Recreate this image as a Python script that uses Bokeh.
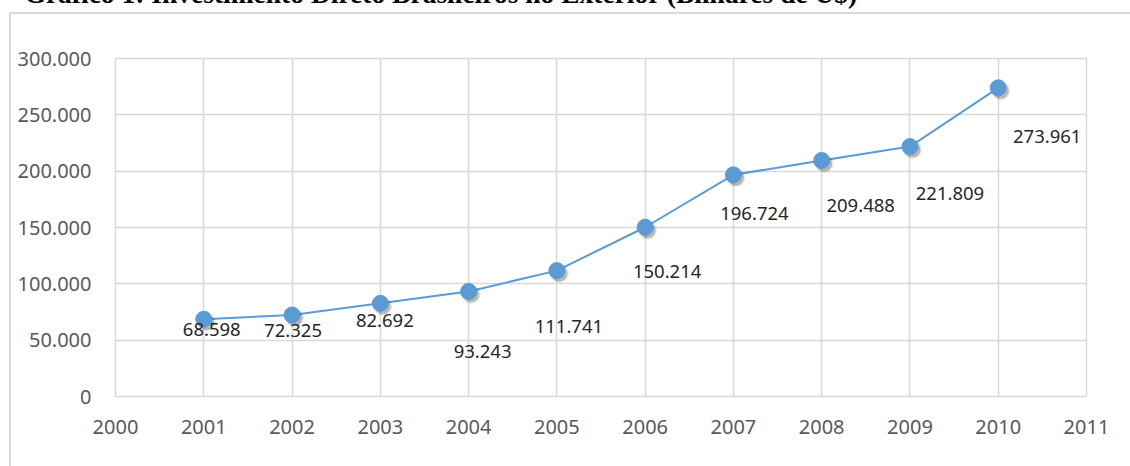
from bokeh.plotting import figure
from bokeh.models import ColumnDataSource, FixedTicker
from bokeh.core.properties import value
from bokeh.embed import file_html
from bokeh.resources import INLINE

# ---- data ----
title_text = "Gráfico 1: Investimento Direto Brasileiros no Exterior (Bilhares de U$)"
years = [2001, 2002, 2003, 2004, 2005, 2006, 2007, 2008, 2009, 2010]
values = [68598, 72325, 82692, 93243, 111741, 150214, 196724, 209488, 221809, 273961]
x_ticks = list(range(2000, 2012))
y_ticks = [0, 50000, 100000, 150000, 200000, 250000, 300000]

# label placement offsets in screen pixels (manual placements in the original)
label_dx = [8, 1, 4.5, 14, 12, 22, 21, 39, 40, 49]
label_dy = [10, 15, 17.5, 60, 56, 44, 39, 45, 47, 49]

def fmt(v):
    return f"{v:,}".replace(",", ".")

W, H = 1130, 466
SHIFT = 100                     # canvas extends above the window; title sits in the cut-off part
BL, BR, BT, BB = 115, 44, 58 + SHIFT, 70
x_start, x_end = 2000, 2011
y_start, y_end = 0, 300000
px_per_x = (W - BL - BR) / (x_end - x_start)
px_per_y = (H + SHIFT - BT - BB) / (y_end - y_start)

p = figure(width=W, height=H + SHIFT, x_range=(x_start, x_end), y_range=(y_start, y_end),
           min_border_left=BL, min_border_right=BR, min_border_top=BT, min_border_bottom=BB,
           output_backend="svg", toolbar_location=None)
# outer chart frame drawn as CSS lines behind a transparent border area
p.styles = {
    "margin-top": f"-{SHIFT}px",
    "background-color": "white",
    "background-image": "linear-gradient(#d9d9d9, #d9d9d9), linear-gradient(#d9d9d9, #d9d9d9)",
    "background-repeat": "no-repeat",
    "background-size": "2px 100%, 100% 2px",
    "background-position": f"9px {12 + SHIFT}px, 9px {12 + SHIFT}px",
}
p.background_fill_color = "white"
p.border_fill_alpha = 0
p.outline_line_color = "#d9d9d9"
p.outline_line_width = 1.5

p.title.text = title_text
p.title.text_font = "Liberation Serif"
p.title.text_font_style = "bold"
p.title.text_font_size = "27.5px"
p.title.text_color = "#000000"
p.title.align = "left"
p.title.offset = 24 - BL
p.title.standoff = 99

for ax in (p.xaxis[0], p.yaxis[0]):
    ax.axis_line_color = None
    ax.major_tick_line_color = None
    ax.minor_tick_line_color = None
    ax.major_tick_out = 0
    ax.major_tick_in = 0
    ax.major_label_text_font = "Noto Sans"
    ax.major_label_text_font_size = "20px"
    ax.major_label_text_color = "#595959"

p.xaxis.ticker = FixedTicker(ticks=x_ticks)
p.xaxis.major_label_standoff = 23
p.yaxis.ticker = FixedTicker(ticks=y_ticks)
p.yaxis.major_label_overrides = {t: fmt(t) for t in y_ticks}
p.yaxis.major_label_standoff = 24

p.xgrid.ticker = FixedTicker(ticks=x_ticks)
p.ygrid.ticker = FixedTicker(ticks=y_ticks)
for g in (p.xgrid[0], p.ygrid[0]):
    g.grid_line_color = "#d9d9d9"
    g.grid_line_width = 1.5

src = ColumnDataSource(dict(
    x=years, y=values,
    sx=[v + 2.5 / px_per_x for v in years],
    sy=[v - 3.0 / px_per_y for v in values],
    label=[fmt(v) for v in values],
    dx=label_dx, dy=label_dy,
))

p.line("x", "y", source=src, line_color="#5b9bd5", line_width=2)
p.scatter("sx", "sy", source=src, size=19, fill_color="#000000", fill_alpha=0.08, line_color=None)
p.scatter("sx", "sy", source=src, size=16, fill_color="#000000", fill_alpha=0.22, line_color=None)
p.scatter("x", "y", source=src, size=16, fill_color="#5b9bd5", line_color="#5b9bd5", line_width=1)

p.text("x", "y", text="label", source=src, x_offset="dx", y_offset="dy",
       text_align="center", text_baseline="middle",
       text_font=value("Noto Sans"), text_font_size="18.5px", text_color="#262626")

open("out.html", "w").write(file_html(p, INLINE))
